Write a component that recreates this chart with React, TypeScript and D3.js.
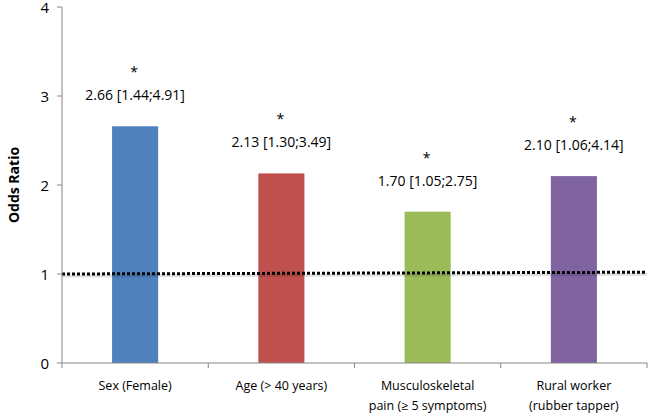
import React from "react";
import * as d3 from "d3";

const categories = [
  ["Sex (Female)"],
  ["Age (> 40 years)"],
  ["Musculoskeletal", "pain (\u2265 5 symptoms)"],
  ["Rural worker", "(rubber tapper)"],
];
const oddsRatios = [2.66, 2.13, 1.7, 2.1];
const ciLabels = ["2.66 [1.44;4.91]", "2.13 [1.30;3.49]", "1.70 [1.05;2.75]", "2.10 [1.06;4.14]"];
const colors = ["#4F81BD", "#C0504D", "#9BBB59", "#8064A2"];
const yTicks = [0, 1, 2, 3, 4];
const refLine = [
  { t: 0, v: 1.0 },
  { t: 1, v: 1.02 },
];

const W = 650;
const H = 416;
const left = 62;
const right = 647;
const top = 7;
const bottom = 363;
const font = "'Open Sans', sans-serif";

export default function App() {
  const x = d3
    .scaleBand<number>()
    .domain(d3.range(categories.length))
    .range([left, right])
    .paddingInner(0.685)
    .paddingOuter(0.3425);
  const band = d3.scaleBand<number>().domain(d3.range(categories.length)).range([left, right]);
  const y = d3.scaleLinear().domain([0, 4]).range([bottom, top]);
  const tx = d3.scaleLinear().domain([0, 1]).range([left, right]);
  const line = d3
    .line<{ t: number; v: number }>()
    .x((d) => tx(d.t))
    .y((d) => y(d.v));

  return (
    <svg width={W} height={H} style={{ position: "absolute", left: 0, top: 0, background: "#fff" }}>
      {oddsRatios.map((v, i) => (
        <rect key={i} x={x(i)} y={y(v)} width={x.bandwidth()} height={y(0) - y(v)} fill={colors[i]} />
      ))}
      {/* reference line shadow */}
      <path d={line(refLine) || ""} fill="none" stroke="rgba(0,0,0,0.12)" strokeWidth={3} transform="translate(0,2)" />
      <path d={line(refLine) || ""} fill="none" stroke="#000" strokeWidth={3} strokeDasharray="3,2" />
      {/* y axis */}
      <line x1={left} x2={left} y1={top} y2={bottom} stroke="#868686" strokeWidth={1} />
      {yTicks.map((t) => (
        <g key={t}>
          <line x1={left - 5} x2={left} y1={y(t)} y2={y(t)} stroke="#868686" />
          <text x={left - 13} y={y(t) + 1} dy="0.35em" textAnchor="end" fontFamily={font} fontSize={15} fill="#000">
            {t}
          </text>
        </g>
      ))}
      <text
        transform={`translate(14,${(top + bottom) / 2}) rotate(-90)`}
        textAnchor="middle"
        dy="0.35em"
        fontFamily={font}
        fontSize={14}
        fontWeight="bold"
        fill="#000"
      >
        Odds Ratio
      </text>
      {/* x axis */}
      <line x1={left} x2={right} y1={bottom} y2={bottom} stroke="#868686" />
      {d3.range(categories.length + 1).map((i) => {
        const px = i < categories.length ? band(i)! : right;
        return <line key={i} x1={px} x2={px} y1={bottom} y2={bottom + 5} stroke="#868686" />;
      })}
      {categories.map((lines, i) => (
        <text key={i} textAnchor="middle" fontFamily={font} fontSize={12.5} fill="#000">
          {lines.map((l, j) => (
            <tspan key={j} x={band(i)! + band.bandwidth() / 2} y={390 + j * 20}>
              {l}
            </tspan>
          ))}
        </text>
      ))}
      {oddsRatios.map((v, i) => {
        const cx = x(i)! + x.bandwidth() / 2;
        return (
          <g key={i} fontFamily={font} fill="#000" textAnchor="middle">
            <text x={cx} y={y(v) - 26} fontSize={14}>
              {ciLabels[i]}
            </text>
            <text x={cx - 1} y={y(v) - 49} fontSize={14}>
              *
            </text>
          </g>
        );
      })}
    </svg>
  );
}
